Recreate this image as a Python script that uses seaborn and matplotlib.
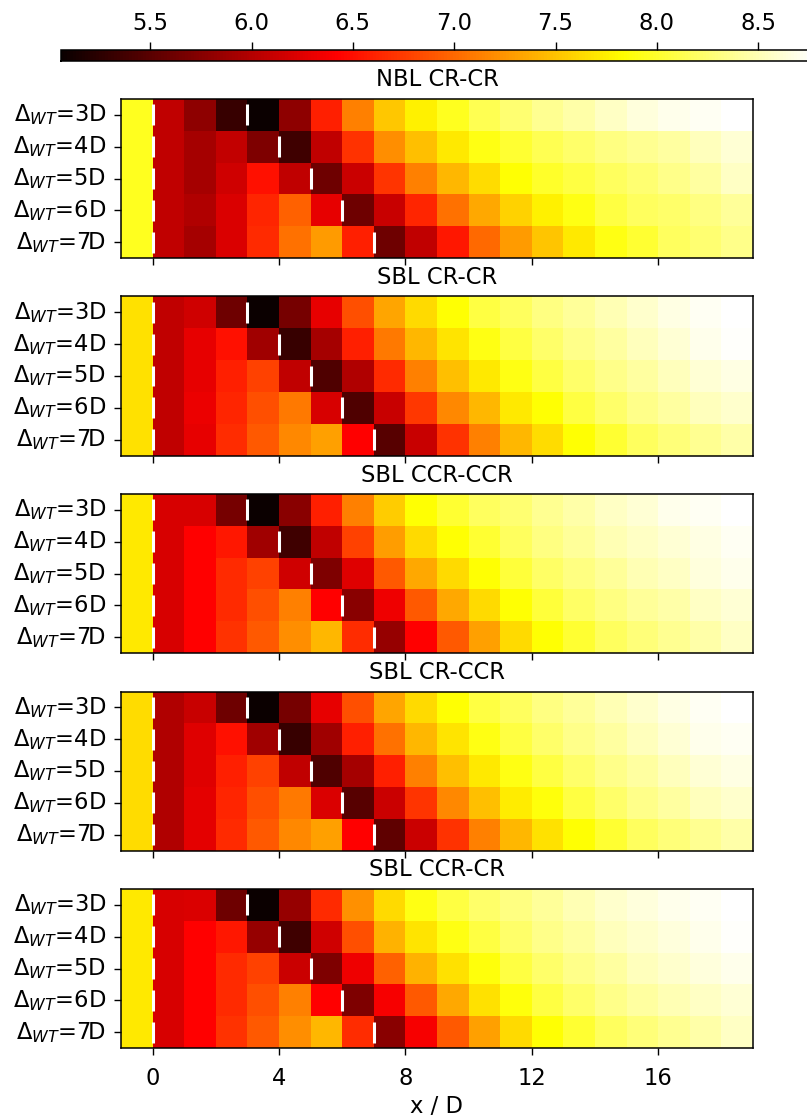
import numpy as np
import pandas as pd
import matplotlib
matplotlib.use("Agg")
import matplotlib.pyplot as plt
import seaborn as sns

# turbine spacings (rows) and streamwise positions x/D of the cells (left edges)
spacings = [3, 4, 5, 6, 7]
x_left = list(range(-1, 19))
cases = ["NBL CR-CR", "SBL CR-CR", "SBL CCR-CCR", "SBL CR-CCR", "SBL CCR-CR"]

# mean wind speed per cell
nbl_cr_cr = [
    [7.95, 6.07, 5.80, 5.31, 5.06, 5.80, 6.60, 7.13, 7.53, 7.75, 7.95, 8.13, 8.25, 8.37, 8.46, 8.55, 8.64, 8.70, 8.73, 8.78],
    [7.95, 6.07, 5.93, 6.09, 5.71, 5.36, 6.07, 6.69, 7.20, 7.48, 7.71, 7.90, 8.02, 8.13, 8.22, 8.31, 8.37, 8.43, 8.52, 8.61],
    [7.95, 6.07, 5.93, 6.16, 6.51, 6.07, 5.62, 6.13, 6.71, 7.13, 7.44, 7.64, 7.84, 7.99, 8.07, 8.17, 8.25, 8.34, 8.43, 8.55],
    [7.95, 6.07, 5.98, 6.22, 6.62, 6.95, 6.29, 5.62, 6.11, 6.62, 7.04, 7.35, 7.58, 7.75, 7.90, 8.07, 8.17, 8.22, 8.31, 8.40],
    [7.95, 6.07, 5.93, 6.22, 6.65, 7.04, 7.27, 6.60, 5.62, 6.07, 6.55, 7.00, 7.27, 7.51, 7.71, 7.90, 8.02, 8.17, 8.25, 8.34],
]
sbl_cr_cr = [
    [7.67, 6.07, 6.16, 5.62, 5.06, 5.67, 6.29, 6.86, 7.33, 7.62, 7.84, 8.07, 8.17, 8.31, 8.40, 8.49, 8.58, 8.67, 8.73, 8.78],
    [7.67, 6.07, 6.29, 6.51, 5.89, 5.31, 5.93, 6.60, 7.09, 7.44, 7.68, 7.90, 8.07, 8.22, 8.34, 8.43, 8.52, 8.61, 8.70, 8.76],
    [7.67, 6.07, 6.29, 6.60, 6.78, 6.07, 5.44, 5.98, 6.65, 7.13, 7.48, 7.71, 7.90, 8.07, 8.22, 8.34, 8.43, 8.52, 8.61, 8.67],
    [7.67, 6.07, 6.31, 6.62, 6.86, 7.09, 6.20, 5.44, 6.11, 6.73, 7.17, 7.44, 7.71, 7.84, 8.07, 8.22, 8.34, 8.43, 8.52, 8.58],
    [7.67, 6.07, 6.29, 6.66, 6.91, 7.17, 7.31, 6.42, 5.49, 6.11, 6.69, 7.13, 7.44, 7.64, 7.84, 8.02, 8.17, 8.28, 8.37, 8.46],
]
sbl_ccr_ccr = [
    [7.71, 6.20, 6.20, 5.67, 5.06, 5.76, 6.60, 7.13, 7.55, 7.84, 8.02, 8.17, 8.25, 8.37, 8.46, 8.55, 8.61, 8.70, 8.73, 8.78],
    [7.71, 6.20, 6.42, 6.55, 5.89, 5.36, 6.07, 6.78, 7.29, 7.62, 7.84, 8.02, 8.17, 8.31, 8.40, 8.49, 8.55, 8.61, 8.67, 8.73],
    [7.71, 6.20, 6.42, 6.65, 6.78, 6.16, 5.71, 6.25, 6.91, 7.35, 7.62, 7.84, 8.05, 8.20, 8.31, 8.40, 8.49, 8.55, 8.64, 8.70],
    [7.71, 6.20, 6.42, 6.65, 6.86, 7.13, 6.42, 5.76, 6.33, 6.91, 7.35, 7.62, 7.84, 8.05, 8.20, 8.31, 8.40, 8.46, 8.55, 8.61],
    [7.71, 6.20, 6.42, 6.69, 6.91, 7.20, 7.44, 6.66, 5.84, 6.42, 6.91, 7.31, 7.62, 7.84, 8.02, 8.17, 8.28, 8.37, 8.46, 8.55],
]
sbl_cr_ccr = [
    [7.64, 5.98, 6.11, 5.62, 5.06, 5.67, 6.29, 6.86, 7.33, 7.62, 7.84, 8.07, 8.17, 8.31, 8.40, 8.49, 8.58, 8.67, 8.73, 8.78],
    [7.64, 5.98, 6.25, 6.51, 5.89, 5.31, 5.89, 6.60, 7.04, 7.44, 7.68, 7.90, 8.07, 8.22, 8.34, 8.43, 8.52, 8.61, 8.70, 8.73],
    [7.64, 5.98, 6.25, 6.60, 6.78, 6.07, 5.44, 5.93, 6.60, 7.13, 7.48, 7.71, 7.90, 8.07, 8.22, 8.34, 8.43, 8.52, 8.61, 8.67],
    [7.64, 5.98, 6.27, 6.62, 6.86, 7.09, 6.22, 5.49, 6.13, 6.71, 7.17, 7.48, 7.73, 7.87, 8.07, 8.22, 8.34, 8.43, 8.52, 8.58],
    [7.64, 5.98, 6.27, 6.65, 6.91, 7.17, 7.31, 6.42, 5.53, 6.13, 6.69, 7.13, 7.44, 7.67, 7.84, 8.02, 8.17, 8.28, 8.37, 8.46],
]
sbl_ccr_cr = [
    [7.71, 6.20, 6.22, 5.62, 5.06, 5.84, 6.65, 7.22, 7.62, 7.90, 8.07, 8.22, 8.31, 8.40, 8.49, 8.58, 8.64, 8.70, 8.73, 8.78],
    [7.71, 6.20, 6.42, 6.55, 5.84, 5.36, 6.16, 6.86, 7.40, 7.68, 7.90, 8.07, 8.22, 8.34, 8.43, 8.52, 8.58, 8.64, 8.70, 8.76],
    [7.71, 6.20, 6.42, 6.65, 6.78, 6.13, 5.71, 6.33, 6.95, 7.40, 7.67, 7.87, 8.07, 8.22, 8.34, 8.43, 8.52, 8.58, 8.64, 8.70],
    [7.71, 6.20, 6.42, 6.65, 6.86, 7.13, 6.42, 5.71, 6.38, 6.91, 7.35, 7.67, 7.87, 8.07, 8.22, 8.34, 8.43, 8.49, 8.55, 8.61],
    [7.71, 6.20, 6.42, 6.69, 6.91, 7.20, 7.44, 6.66, 5.76, 6.38, 6.91, 7.31, 7.62, 7.84, 8.02, 8.17, 8.28, 8.37, 8.46, 8.55],
]
all_data = [nbl_cr_cr, sbl_cr_cr, sbl_ccr_ccr, sbl_cr_ccr, sbl_ccr_cr]

vmin, vmax = 5.06, 8.78
cbar_ticks = [5.5, 6.0, 6.5, 7.0, 7.5, 8.0, 8.5]
x_ticks = [0, 4, 8, 12, 16]

fs = 16.3
plt.rcParams["font.family"] = "DejaVu Sans"
plt.rcParams["mathtext.fontset"] = "dejavusans"
plt.rcParams["font.size"] = fs
plt.rcParams["axes.linewidth"] = 1.1
plt.rcParams["xtick.major.size"] = 5
plt.rcParams["ytick.major.size"] = 5
plt.rcParams["xtick.major.width"] = 1.0
plt.rcParams["ytick.major.width"] = 1.0

W, H = 807, 1117
fig = plt.figure(figsize=(W / 100, H / 100), dpi=100)

row_labels = [r"$\Delta_{WT}$=%dD" % s for s in spacings]
offset = -x_left[0]  # heatmap column index of x/D = 0

axes = []
for i, (case, data) in enumerate(zip(cases, all_data)):
    top = 99 + i * 197.5
    ax = fig.add_axes([121 / W, 1 - (top + 159) / H, 632 / W, 159 / H])
    df = pd.DataFrame(data, index=row_labels, columns=x_left)
    sns.heatmap(df, ax=ax, cmap="hot", vmin=vmin, vmax=vmax, cbar=False)
    for s in ax.spines.values():
        s.set_visible(True)
        s.set_color("black")
        s.set_linewidth(1.1)
    # turbine positions: first at x/D=0, second at x/D=spacing
    for r, s in enumerate(spacings):
        for xt in (0, s):
            ax.vlines(xt + offset, r + 0.17, r + 0.83, colors="white", lw=2.2)
    ax.set_xticks([t + offset for t in x_ticks])
    ax.set_yticks(np.arange(len(spacings)) + 0.5)
    ax.set_yticklabels(row_labels, rotation=0, fontsize=fs)
    ax.tick_params(axis="y", pad=6)
    ax.tick_params(axis="x", pad=9)
    ax.set_ylabel("")
    ax.set_title(case, fontsize=fs, pad=9)
    if i == len(cases) - 1:
        ax.set_xticklabels([str(t) for t in x_ticks], rotation=0, fontsize=fs)
        ax.set_xlabel("x / D", fontsize=fs, labelpad=3)
    else:
        ax.set_xticklabels([])
        ax.set_xlabel("")
    axes.append(ax)

cax = fig.add_axes([61 / W, 1 - 61 / H, 754 / W, 11 / H])
cb = fig.colorbar(axes[0].collections[0], cax=cax, orientation="horizontal", ticks=cbar_ticks)
cax.xaxis.set_ticks_position("top")
cax.xaxis.set_label_position("top")
cax.tick_params(labelsize=fs, length=6, pad=5)
cb.outline.set_linewidth(1.1)

fig.savefig("out.png", dpi=100)
